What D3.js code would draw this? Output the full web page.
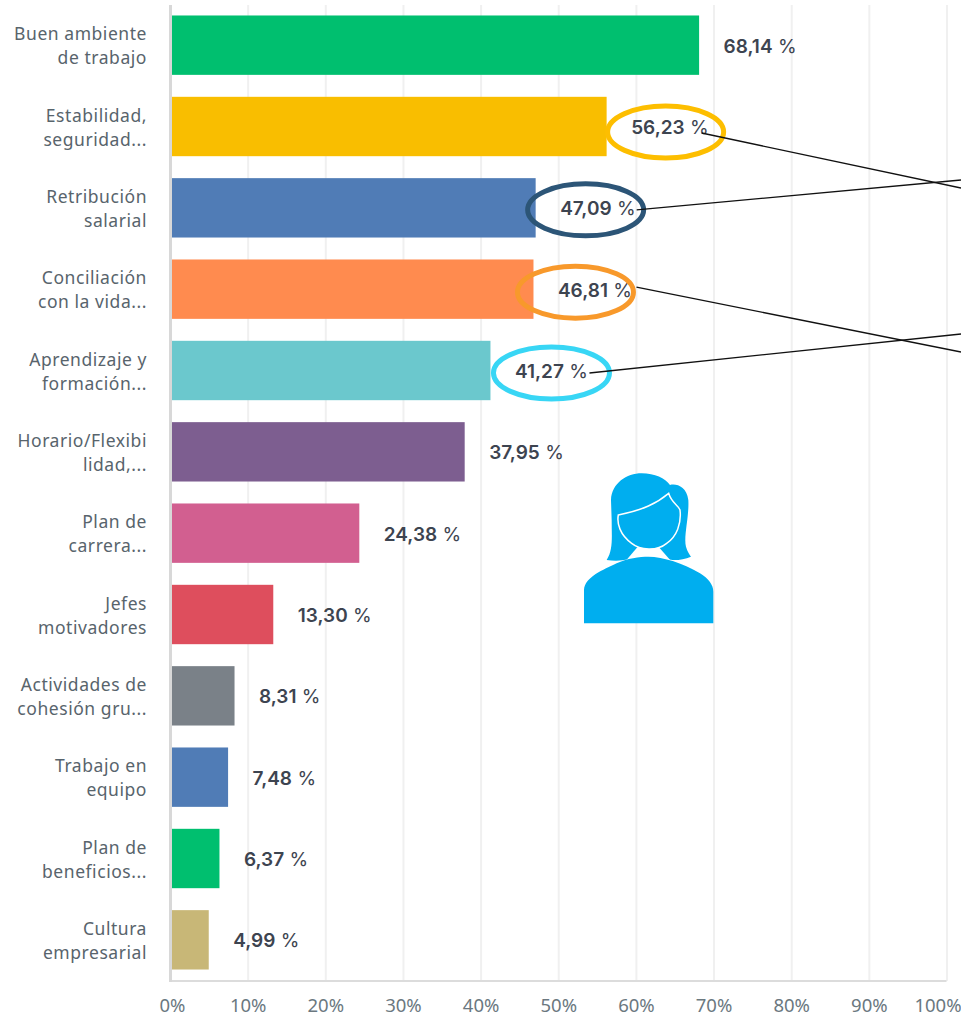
<!DOCTYPE html>
<html><head><meta charset="utf-8">
<script src="https://cdn.jsdelivr.net/npm/d3@7"></script>
<style>html,body{margin:0;background:#fff;overflow:hidden}svg{display:block}
.cat{font:400 17.5px "Noto Sans",sans-serif;fill:#58646c;letter-spacing:.55px}
.val{font:600 19px "Inter",sans-serif;fill:#3d4450}
.val .pct{font-weight:400}
.tick text{font:400 18.5px "Noto Sans",sans-serif;fill:#6b787f}
</style></head><body><svg id="c" width="961" height="1016"></svg>
<script>
const categories=[["Buen ambiente","de trabajo"],["Estabilidad,","seguridad..."],["Retribución","salarial"],["Conciliación","con la vida..."],["Aprendizaje y","formación..."],["Horario/Flexibi","lidad,..."],["Plan de","carrera..."],["Jefes","motivadores"],["Actividades de","cohesión gru..."],["Trabajo en","equipo"],["Plan de","beneficios..."],["Cultura","empresarial"]];
const values=[68.14,56.23,47.09,46.81,41.27,37.95,24.38,13.30,8.31,7.48,6.37,4.99];
const colors=["#00bf6f","#f9be00","#507cb6","#ff8b4f","#6bc8cd","#7d5e90","#d25f90","#de4e5d","#7a8188","#507cb6","#00bf6f","#c8b777"];
const ticks=[0,10,20,30,40,50,60,70,80,90,100];
const callouts=[{i:1,color:"#fdbe00",ex:59,ey:5.5,lx:95,ly:6.5,end:188},{i:2,color:"#2c5577",ex:50,ey:2,lx:101,ly:2,end:180},{i:3,color:"#f8992b",ex:42,ey:3,lx:103,ly:-2,end:352},{i:4,color:"#38d6f5",ex:61,ey:2.5,lx:99,ly:2.5,end:334}];
const svg=d3.select("#c");
const x=d3.scaleLinear().domain([0,100]).range([170,946.5]);
const y=d3.scaleBand().domain(d3.range(values.length)).range([4.5,980.5]).paddingInner(.27).paddingOuter(.135);
const axis=d3.axisBottom(x).tickValues(ticks).tickFormat(d=>d+"%").tickSize(-976).tickPadding(18);
const ax=svg.append("g").attr("transform","translate(0,981)").call(axis);
ax.select(".domain").remove();
ax.selectAll(".tick line").attr("stroke","#f0f0f0").attr("stroke-width",2);
ax.selectAll(".tick text").attr("dx",d=>d===100?-9:d===0?2:0);
svg.append("line").attr("x1",x(0)).attr("x2",x(100)).attr("y1",981).attr("y2",981).attr("stroke","#dcdcdc").attr("stroke-width",2);
svg.append("g").selectAll("rect").data(values).join("rect")
 .attr("x",x(0)).attr("y",(d,i)=>y(i)).attr("width",d=>x(d)-x(0)).attr("height",y.bandwidth()).attr("fill",(d,i)=>colors[i]);
svg.append("line").attr("x1",x(0)+.5).attr("x2",x(0)+.5).attr("y1",5).attr("y2",982).attr("stroke","#d8d8d8").attr("stroke-width",3);
const cat=svg.append("g").selectAll("text").data(categories).join("text").attr("class","cat").attr("text-anchor","end");
cat.selectAll("tspan").data((d,i)=>d.map((s,k)=>({s,k,i}))).join("tspan").attr("x",147)
 .attr("y",d=>y(d.i)+y.bandwidth()/2+(d.k?19:-5)).text(d=>d.s);
const fmt=v=>v.toFixed(2).replace(".",",");
const val=svg.append("g").selectAll("text").data(values).join("text").attr("class","val")
 .attr("x",d=>x(d)+24.5).attr("y",(d,i)=>y(i)+y.bandwidth()/2+7.5);
val.append("tspan").text(d=>fmt(d));
val.append("tspan").attr("class","pct").text(" %");
const cg=svg.append("g");
callouts.forEach(c=>{
 const bx=x(values[c.i]),cy=y(c.i)+y.bandwidth()/2;
 cg.append("ellipse").attr("cx",bx+c.ex).attr("cy",cy+c.ey).attr("rx",58).attr("ry",26).attr("fill","none").attr("stroke",c.color).attr("stroke-width",5);
 cg.append("line").attr("x1",bx+c.lx).attr("y1",cy+c.ly).attr("x2",961).attr("y2",c.end).attr("stroke","#111").attr("stroke-width",1.3);
});
const fig=svg.append("g").attr("transform","translate(560,460) scale(.3333)").attr("fill","#00aeef");
fig.append("path").attr("d","M140 300C160 270 155 230 155 180L153 120C155 70 200 40 245 40C285 40 315 55 330 75C350 70 380 80 385 120C388 170 370 230 378 260C382 275 390 285 393 290C370 300 340 303 325 298L295 270L232 268L205 298C185 303 160 303 140 300Z");
fig.append("path").attr("d","M232 262L297 262L335 305L195 305Z").attr("fill","#fff");
fig.append("path").attr("d","M326 100C290 130 250 150 175 165C170 190 180 225 215 250C240 270 290 275 320 250C350 230 365 190 360 150C355 135 335 130 326 100Z").attr("fill","#00aeef").attr("stroke","#fff").attr("stroke-width",4.5);
fig.append("path").attr("d","M72 490L72 390C75 350 130 330 170 310C200 295 240 290 265 290C310 290 370 310 420 340C445 355 460 375 460 395L460 490Z");
</script></body></html>
